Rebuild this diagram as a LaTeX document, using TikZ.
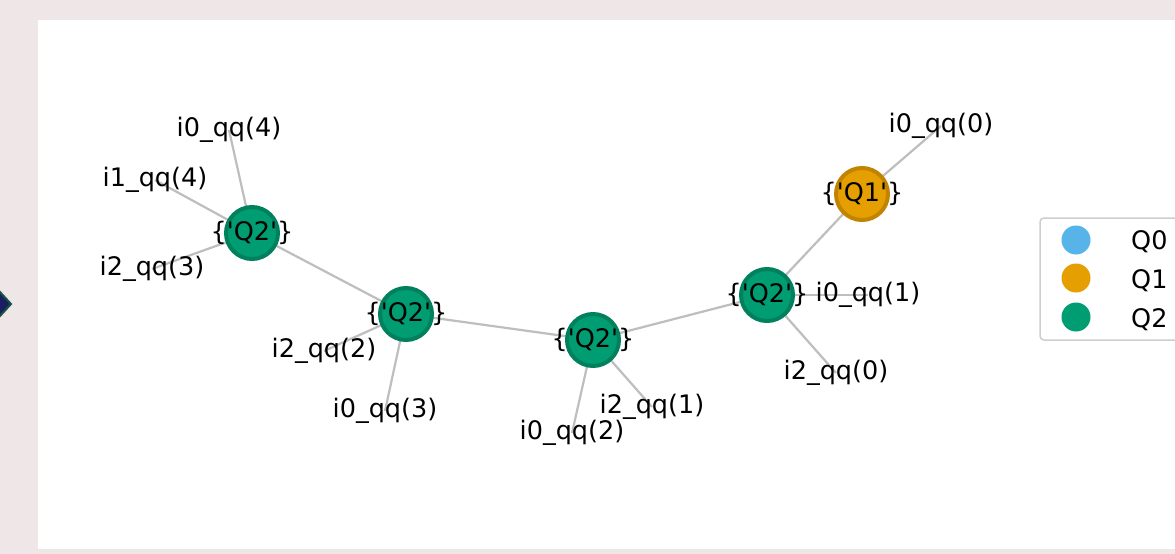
\documentclass[tikz,border=0pt]{standalone}
\usepackage{fontspec}
\setmainfont{DejaVu Sans}
\definecolor{pagebg}{RGB}{239,230,232}
\definecolor{edgegray}{RGB}{190,190,190}
\definecolor{qgreen}{RGB}{0,156,114}
\definecolor{qgreenring}{RGB}{0,128,92}
\definecolor{qorange}{RGB}{230,159,0}
\definecolor{qorangering}{RGB}{192,132,0}
\definecolor{qblue}{RGB}{86,180,233}
\definecolor{legendframe}{RGB}{206,206,206}
\definecolor{markfill}{RGB}{28,30,98}
\definecolor{markline}{RGB}{22,84,66}
\pgfdeclarelayer{panel}
\pgfdeclarelayer{edgelayer}
\pgfsetlayers{panel,edgelayer,main}
\newcommand{\qset}[1]{\{\textquotesingle #1\textquotesingle\}}
\begin{document}
\begin{tikzpicture}[x=1pt,y=-1pt,
  lbl/.style={font=\fontsize{25.5}{30}\selectfont, inner sep=0pt, text=black},
  qtwo/.style={circle, minimum size=52pt, inner sep=0pt, fill=qgreen, draw=qgreenring, line width=4pt,
    label={[lbl]center:\qset{Q2}}},
  qone/.style={circle, minimum size=52pt, inner sep=0pt, fill=qorange, draw=qorangering, line width=4pt,
    label={[lbl]center:\qset{Q1}}},
  leaf/.style={lbl},
  link/.style={draw=edgegray, line width=2.2pt},
  legmark/.style={circle, minimum size=29pt, inner sep=0pt, draw=none}
]
\useasboundingbox (0,0) rectangle (1175,554);
\begin{scope}
\clip (0,0) rectangle (1175,554);

% page and white panel
\begin{pgfonlayer}{panel}
  \fill[pagebg] (0,0) rectangle (1175,554);
  \fill[white] (38,20) rectangle (1180,549);
\end{pgfonlayer}

% side marker
\filldraw[fill=markfill, draw=markline, line width=2pt]
  (-12,304) -- (0,292) -- (11,304) -- (0,316) -- cycle;

% register nodes
\node[qtwo] (A) at (252,233) {};
\node[qtwo] (B) at (406,314) {};
\node[qtwo] (C) at (593,340) {};
\node[qtwo] (D) at (767,295) {};
\node[qone] (E) at (862,194) {};

% qubit labels
\node[leaf] (a0) at (229,130) {i0\_qq(4)};
\node[leaf] (a1) at (155,180) {i1\_qq(4)};
\node[leaf] (a2) at (152,269) {i2\_qq(3)};
\node[leaf] (b2) at (324,351) {i2\_qq(2)};
\node[leaf] (b0) at (385,411) {i0\_qq(3)};
\node[leaf] (c0) at (572,433) {i0\_qq(2)};
\node[leaf] (c2) at (652,407) {i2\_qq(1)};
\node[leaf] (d0) at (868,295) {i0\_qq(1)};
\node[leaf] (d2) at (836,373) {i2\_qq(0)};
\node[leaf] (e0) at (941,126) {i0\_qq(0)};

% connections
\begin{pgfonlayer}{edgelayer}
  \draw[link] (A.center) -- (a0.center);
  \draw[link] (A.center) -- (a1.center);
  \draw[link] (A.center) -- (a2.center);
  \draw[link] (A.center) -- (B.center);
  \draw[link] (B.center) -- (b2.center);
  \draw[link] (B.center) -- (b0.center);
  \draw[link] (B.center) -- (C.center);
  \draw[link] (C.center) -- (c0.center);
  \draw[link] (C.center) -- (c2.center);
  \draw[link] (C.center) -- (D.center);
  \draw[link] (D.center) -- (d0.center);
  \draw[link] (D.center) -- (d2.center);
  \draw[link] (D.center) -- (E.center);
  \draw[link] (E.center) -- (e0.center);
\end{pgfonlayer}

% legend
\draw[fill=white, draw=legendframe, line width=1.5pt, rounded corners=4pt]
  (1040,218) rectangle (1200,340);
\node[legmark, fill=qblue] (m0) at (1076,240) {};
\node[legmark, fill=qorange] (m1) at (1076,278) {};
\node[legmark, fill=qgreen] (m2) at (1076,317) {};
\node[lbl, anchor=west] (t0) at (1131,242) {Q0};
\node[lbl, anchor=west] (t1) at (1131,281) {Q1};
\node[lbl, anchor=west] (t2) at (1131,320) {Q2};
\end{scope}
\end{tikzpicture}
\end{document}
